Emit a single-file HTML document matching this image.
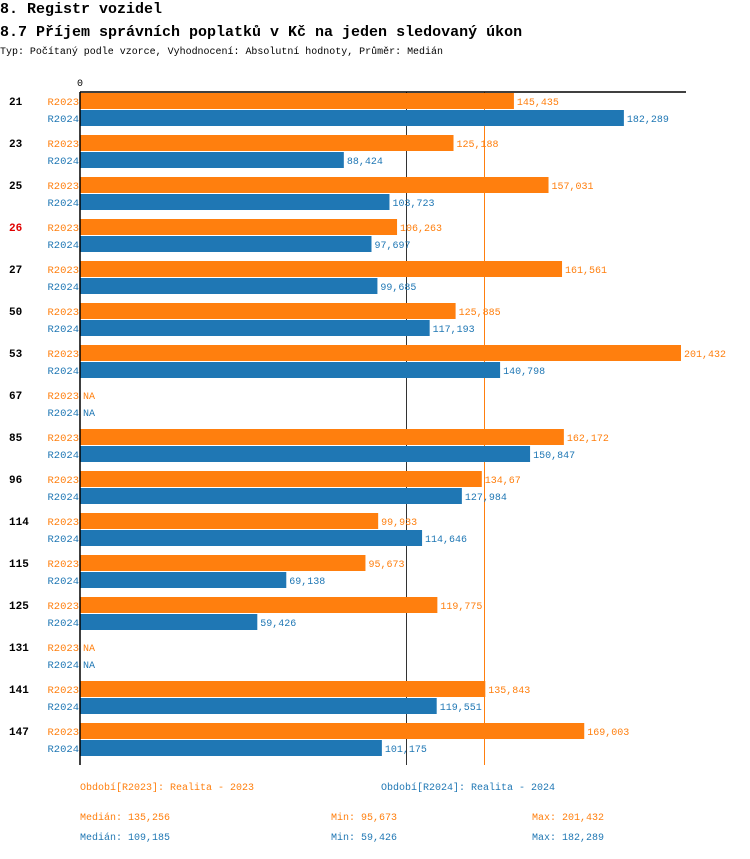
<!DOCTYPE html>
<html><head><meta charset="utf-8"><style>
body{margin:0;background:#fff;width:750px;height:854px;overflow:hidden;font-family:"Liberation Mono","DejaVu Sans Mono",monospace;}
svg text{font-family:"Liberation Mono","DejaVu Sans Mono",monospace;}
</style></head><body>
<svg id="chart" width="750" height="854" xmlns="http://www.w3.org/2000/svg">
<text x="0" y="13" font-size="15" font-weight="bold" fill="#000">8. Registr vozidel</text>
<text x="0" y="36" font-size="15" font-weight="bold" fill="#000">8.7 Příjem správních poplatků v Kč na jeden sledovaný úkon</text>
<text x="0" y="54" font-size="10" fill="#000" textLength="443" lengthAdjust="spacingAndGlyphs">Typ: Počítaný podle vzorce, Vyhodnocení: Absolutní hodnoty, Průměr: Medián</text>
<g id="plot"></g>
<g font-size="10">
<text x="80" y="790" fill="#ff7f0e">Období[R2023]: Realita - 2023</text>
<text x="381" y="790" fill="#1f77b4">Období[R2024]: Realita - 2024</text>
<text x="80" y="820" fill="#ff7f0e">Medián: 135,256</text>
<text x="331" y="820" fill="#ff7f0e">Min: 95,673</text>
<text x="532" y="820" fill="#ff7f0e">Max: 201,432</text>
<text x="80" y="840" fill="#1f77b4">Medián: 109,185</text>
<text x="331" y="840" fill="#1f77b4">Min: 59,426</text>
<text x="532" y="840" fill="#1f77b4">Max: 182,289</text>
</g>
</svg>
<script>
const categories=["21","23","25","26","27","50","53","67","85","96","114","115","125","131","141","147"];
const values2023=[145435,125188,157031,106263,161561,125885,201432,null,162172,134670,99933,95673,119775,null,135843,169003];
const values2024=[182289,88424,103723,97697,99685,117193,140798,null,150847,127984,114646,69138,59426,null,119551,101175];
const labels2023=["145,435","125,188","157,031","106,263","161,561","125,885","201,432","NA","162,172","134,67","99,933","95,673","119,775","NA","135,843","169,003"];
const labels2024=["182,289","88,424","103,723","97,697","99,685","117,193","140,798","NA","150,847","127,984","114,646","69,138","59,426","NA","119,551","101,175"];
const medians=[135256,109185];
const highlighted=["26"];

const NS="http://www.w3.org/2000/svg";
const g=document.getElementById('plot');
const x0=80, xMaxPx=681, vMax=201432;
const xs=v=>x0+(v/vMax)*(xMaxPx-x0);
const groupY=i=>93+i*42;
function mk(tag,attrs,txt){const e=document.createElementNS(NS,tag);for(const k in attrs)e.setAttribute(k,attrs[k]);if(txt!==undefined)e.textContent=txt;g.appendChild(e);return e;}
const cols=["#ff7f0e","#1f77b4"];
const vals=[values2023,values2024], labs=[labels2023,labels2024], sers=["R2023","R2024"];
medians.forEach((m,s)=>{
  const xx=Math.round(xs(m))+0.5;
  const l=mk('line',{x1:xx,x2:xx,y1:92,y2:765,stroke:s===0?'#ff7f0e':'#333','stroke-width':1});
  
  
});
categories.forEach((c,i)=>{
  const y=groupY(i);
  const t=mk('text',{x:9,y:y+12,'font-size':11,'font-weight':'bold',fill:highlighted.includes(c)?'#e00000':'#000'},c);
  
  
  for(let s=0;s<2;s++){
    const yy=y+s*17;
    const sl=mk('text',{x:79,y:yy+12,'font-size':10.5,'text-anchor':'end',fill:cols[s]},sers[s]);
    
    
    const v=vals[s][i];
    let end=x0;
    if(v!==null){
      end=xs(v);
      const r=mk('rect',{x:x0,y:yy,width:end-x0,height:16,fill:cols[s]});
      
      
    }
    const vl=mk('text',{x:end+3,y:yy+12,'font-size':10,fill:cols[s]},labs[s][i]);
    
    
  }
});
const ax=mk('line',{x1:80,x2:686,y1:92,y2:92,stroke:'#000','stroke-width':1.5});


const ay=mk('line',{x1:80,x2:80,y1:92,y2:765,stroke:'#000','stroke-width':1.5});


const tk=mk('text',{x:80,y:86,'font-size':10,'text-anchor':'middle',fill:'#000'},'0');


</script>
</body></html>
